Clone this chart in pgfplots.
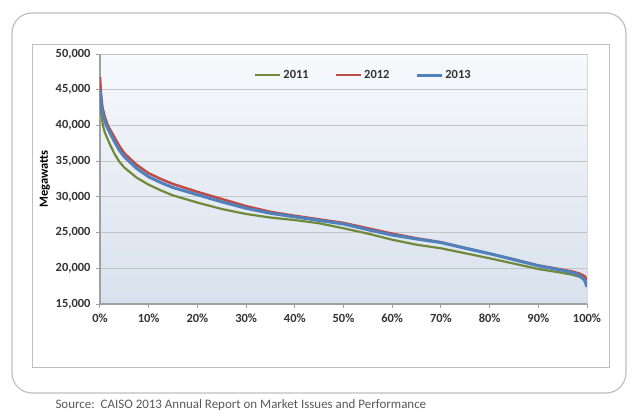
\documentclass[border=0pt]{standalone}
\usepackage{pgfplots}
\pgfplotsset{compat=1.18}
\usepackage{fontspec}
\setmainfont{Carlito}

\definecolor{c2011}{HTML}{71893A}
\definecolor{c2012}{HTML}{BE4B48}
\definecolor{c2013}{HTML}{4F81BD}
\definecolor{gridgray}{HTML}{C4C4C4}
\definecolor{axisgray}{HTML}{A0A0A0}
\definecolor{labelgray}{HTML}{333333}
\definecolor{bgtop}{HTML}{F7F9FC}
\definecolor{bgbottom}{HTML}{D8E1ED}

\begin{document}
\begin{tikzpicture}
\useasboundingbox (-100bp,-115bp) rectangle (540bp,304bp);
% outer rounded frame and inner chart frame
\draw[draw=black!25, line width=1.2bp, rounded corners=20bp, fill=white] (-88bp,-89bp) rectangle (526bp,291bp);
\draw[draw=black!25, line width=1bp] (-67bp,-63bp) rectangle (509bp,259bp);

\begin{axis}[
    at={(0,0)}, anchor=south west,
    scale only axis,
    width=487bp, height=250bp,
    xmin=0, xmax=100,
    ymin=15000, ymax=50000,
    scaled y ticks=false,
    xtick={0,10,...,100},
    xticklabels={0\%,10\%,20\%,30\%,40\%,50\%,60\%,70\%,80\%,90\%,100\%},
    ytick={15000,20000,...,50000},
    yticklabels={{15,000},{20,000},{25,000},{30,000},{35,000},{40,000},{45,000},{50,000}},
    axis lines=left,
    axis line style={-, draw=axisgray, line width=1.3bp},
    tick align=outside,
    major tick length=4bp,
    tick style={draw=axisgray, line width=1bp},
    ymajorgrids=true,
    grid style={draw=gridgray, line width=1bp},
    axis background/.style={top color=bgtop, bottom color=bgbottom},
    ticklabel style={font=\bfseries\fontsize{12.5}{14}\selectfont, text=labelgray},
    yticklabel style={xshift=-2bp},
    xticklabel style={yshift=-2bp},
    ylabel={Megawatts},
    every axis y label/.style={at={(axis description cs:-0.113,0.5)}, rotate=90, anchor=center,
        font=\bfseries\fontsize{12.5}{14}\selectfont, text=black},
    legend columns=3,
    legend style={draw=none, fill=none, at={(0.541,0.916)}, anchor=center,
        font=\bfseries\fontsize{12.5}{14}\selectfont, text=labelgray,
        /tikz/every even column/.append style={column sep=24bp}},
    legend image code/.code={\draw[#1] (0bp,0bp) -- (25bp,0bp);},
    every axis plot/.append style={line join=round},
]

\addplot[color=c2011, line width=2.2bp] coordinates {
(0,44000)(0.2,42000)(0.6,40000)(1,39000)(2,37400)(3,36000)(4,34900)(5,34100)
(7.5,32700)(10,31700)(12.5,30900)(15,30200)(20,29200)(25,28300)(30,27600)
(35,27100)(40,26750)(45,26300)(50,25600)(55,24850)(60,24000)(65,23300)
(70,22800)(75,22100)(80,21400)(85,20650)(90,19900)(95,19350)(97,19100)
(98.5,18800)(99.5,18400)(100,17900)};

\addplot[color=c2012, line width=2.5bp] coordinates {
(0,46800)(0.2,44500)(0.5,42500)(1,41200)(1.6,40000)(2,39500)(3,38300)(4,37100)
(5,36100)(7.5,34500)(10,33300)(12.5,32500)(15,31800)(20,30700)(25,29700)
(30,28700)(35,27900)(40,27350)(45,26850)(50,26350)(55,25600)(60,24850)
(65,24200)(70,23650)(75,22850)(80,22050)(85,21250)(90,20400)(95,19800)
(97,19550)(98.5,19250)(99.5,18900)(100,18400)};

\addplot[color=c2013, line width=3bp] coordinates {
(0,45000)(0.2,43500)(0.5,41800)(1.3,40000)(2,39000)(3,37700)(4,36500)(5,35600)
(7.5,34000)(10,32800)(12.5,32000)(15,31300)(20,30300)(25,29300)(30,28400)
(35,27700)(40,27200)(45,26700)(50,26200)(55,25400)(60,24650)(65,24100)
(70,23600)(75,22800)(80,22050)(85,21200)(90,20350)(95,19700)(97,19400)
(98.5,19000)(99.5,18300)(100,17400)};

\legend{2011,2012,2013}
\end{axis}

% faint right edge of the plot area
\draw[draw=black!15, line width=1bp] (487bp,0bp) -- (487bp,250bp);

\node[anchor=west, text=black!65, font=\fontsize{13}{15}\selectfont]
    at (-48bp,-101bp) {Source:\ \ CAISO 2013 Annual Report on Market Issues and Performance};
\end{tikzpicture}
\end{document}
